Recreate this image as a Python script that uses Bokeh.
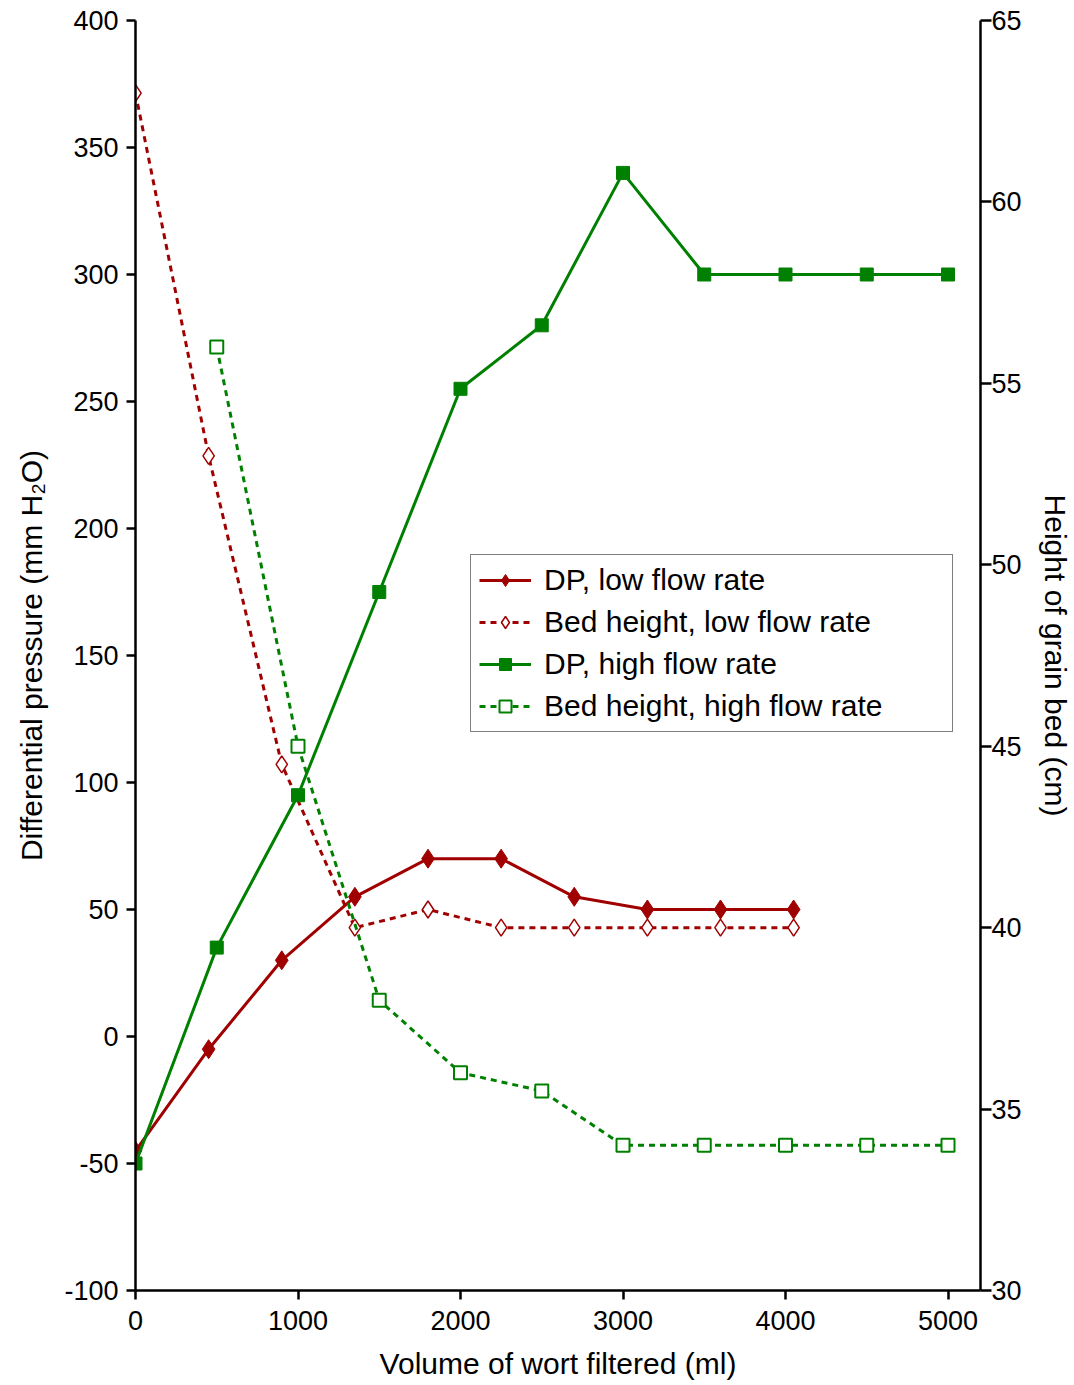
from bokeh.plotting import figure
from bokeh.models import Range1d, LinearAxis, FixedTicker, Legend, LegendItem, PrintfTickFormatter
from bokeh.embed import file_html
from bokeh.resources import INLINE

# Data
x_low = [0, 450, 900, 1350, 1800, 2250, 2700, 3150, 3600, 4050]
dp_low = [-45, -5, 30, 55, 70, 70, 55, 50, 50, 50]
bed_low = [63, 53, 44.5, 40, 40.5, 40, 40, 40, 40, 40]

x_high = [0, 500, 1000, 1500, 2000, 2500, 3000, 3500, 4000, 4500, 5000]
dp_high = [-50, 35, 95, 175, 255, 280, 340, 300, 300, 300, 300]
x_bed_high = [500, 1000, 1500, 2000, 2500, 3000, 3500, 4000, 4500, 5000]
bed_high = [56, 45, 38, 36, 35.5, 34, 34, 34, 34, 34]

x_ticks = [0, 1000, 2000, 3000, 4000, 5000]
left_ticks = [-100, -50, 0, 50, 100, 150, 200, 250, 300, 350, 400]
right_ticks = [30, 35, 40, 45, 50, 55, 60, 65]

RED = "#A00000"
GREEN = "#008000"
FONT = "Liberation Sans"

p = figure(width=1074, height=1384,
           x_range=Range1d(0, 5200), y_range=Range1d(-100, 400),
           output_backend="svg", toolbar_location=None,
           min_border_left=135, min_border_right=92,
           min_border_top=20, min_border_bottom=94)
p.extra_y_ranges = {"bed": Range1d(30, 65)}
p.outline_line_color = None
p.xgrid.visible = False
p.ygrid.visible = False
p.background_fill_color = "white"
p.border_fill_color = "white"

def style_axis(ax):
    ax.axis_line_color = "black"
    ax.axis_line_width = 2.5
    ax.major_tick_line_color = "black"
    ax.major_tick_line_width = 2.5
    ax.major_tick_in = 0
    ax.major_tick_out = 9
    ax.minor_tick_line_color = None
    ax.major_label_text_font = FONT
    ax.major_label_text_font_size = "27px"
    ax.major_label_text_color = "black"
    ax.axis_label_text_font = FONT
    ax.axis_label_text_font_size = "30px"
    ax.axis_label_text_font_style = "normal"
    ax.axis_label_text_color = "black"
    ax.formatter = PrintfTickFormatter(format="%d")

xa = p.xaxis[0]
xa.ticker = FixedTicker(ticks=x_ticks)
xa.axis_label = "Volume of wort filtered (ml)"
style_axis(xa)
xa.major_label_standoff = 11
xa.axis_label_standoff = 14

ya = p.yaxis[0]
ya.ticker = FixedTicker(ticks=left_ticks)
ya.axis_label = "Differential pressure (mm H\u2082O)"
style_axis(ya)
ya.major_label_standoff = 8
ya.axis_label_standoff = 13

ra = LinearAxis(y_range_name="bed", ticker=FixedTicker(ticks=right_ticks),
                axis_label="Height of grain bed (cm)")
style_axis(ra)
ra.major_tick_out = 11
ra.major_label_standoff = 0
ra.axis_label_standoff = 14
p.add_layout(ra, "right")

# Series
l1 = p.line(x_low, dp_low, line_color=RED, line_width=3)
s1 = p.scatter(x_low, dp_low, marker="diamond", size=19, fill_color=RED, line_color=RED)

l2 = p.line(x_low, bed_low, line_color=RED, line_width=3, line_dash="6 5", y_range_name="bed")
s2 = p.scatter(x_low, bed_low, marker="diamond", size=17, fill_color="white", line_color=RED,
               line_width=1.5, y_range_name="bed")

l3 = p.line(x_high, dp_high, line_color=GREEN, line_width=3)
s3 = p.scatter(x_high, dp_high, marker="square", size=13, fill_color=GREEN, line_color=GREEN)

l4 = p.line(x_bed_high, bed_high, line_color=GREEN, line_width=3, line_dash="6 5", y_range_name="bed")
s4 = p.scatter(x_bed_high, bed_high, marker="square", size=13, fill_color="white", line_color=GREEN,
               line_width=2, y_range_name="bed")

legend = Legend(items=[
    LegendItem(label="DP, low flow rate", renderers=[l1, s1]),
    LegendItem(label="Bed height, low flow rate", renderers=[l2, s2]),
    LegendItem(label="DP, high flow rate", renderers=[l3, s3]),
    LegendItem(label="Bed height, high flow rate", renderers=[l4, s4]),
], location=(335, 558))
legend.label_text_font = FONT
legend.label_text_font_size = "30px"
legend.label_text_color = "black"
legend.glyph_width = 52
legend.glyph_height = 30
legend.label_standoff = 13
legend.label_width = 400
legend.spacing = 8
legend.padding = 8
legend.margin = 0
legend.border_line_color = "black"
legend.border_line_width = 1.5
legend.background_fill_color = "white"
legend.background_fill_alpha = 1
p.add_layout(legend, "center")

open("out.html", "w").write(file_html(p, INLINE))
